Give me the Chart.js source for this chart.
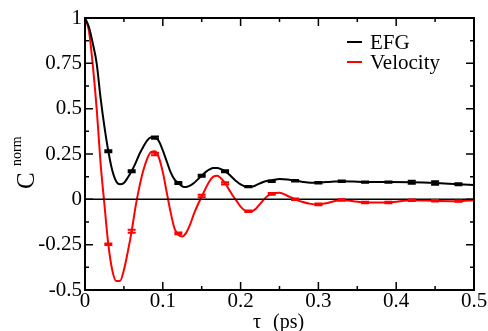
<!DOCTYPE html>
<html>
<head>
<meta charset="utf-8">
<script src="https://cdn.jsdelivr.net/npm/chart.js@4"></script>
<style>
  html, body { margin: 0; padding: 0; background: #fff; }
  #wrap { width: 488px; height: 331px; }
</style>
</head>
<body>
<div id="wrap"><canvas id="grafico"></canvas></div>
<script>
// curve samples (tau in ps)
const tau = [0, 0.005, 0.01, 0.015, 0.02, 0.025, 0.03, 0.035, 0.04, 0.045, 0.05, 0.055, 0.06, 0.065, 0.07, 0.075,
  0.08, 0.085, 0.09, 0.095, 0.1, 0.105, 0.11, 0.115, 0.12, 0.125, 0.13, 0.135, 0.14, 0.145, 0.15, 0.155, 0.16,
  0.165, 0.17, 0.175, 0.18, 0.185, 0.19, 0.195, 0.2, 0.205, 0.21, 0.215, 0.22, 0.225, 0.23, 0.235, 0.24, 0.25,
  0.26, 0.27, 0.28, 0.29, 0.3, 0.31, 0.32, 0.33, 0.345, 0.36, 0.39, 0.42, 0.45, 0.48, 0.5];
const efg = [1, 0.95, 0.86, 0.75, 0.56, 0.4, 0.265, 0.16, 0.1, 0.083, 0.09, 0.12, 0.156, 0.2, 0.25, 0.29,
  0.325, 0.342, 0.343, 0.32, 0.27, 0.21, 0.15, 0.11, 0.09, 0.072, 0.068, 0.075, 0.09, 0.11, 0.13, 0.15, 0.165,
  0.173, 0.173, 0.166, 0.155, 0.138, 0.118, 0.098, 0.082, 0.072, 0.068, 0.07, 0.078, 0.088, 0.097, 0.102, 0.105, 0.112,
  0.11, 0.103, 0.096, 0.092, 0.092, 0.095, 0.098, 0.1, 0.098, 0.095, 0.095, 0.094, 0.09, 0.083, 0.079];
const velocity = [1, 0.93, 0.74, 0.5, 0.2, -0.03, -0.25, -0.39, -0.45, -0.45, -0.39, -0.29, -0.175, -0.04, 0.07, 0.16,
  0.225, 0.262, 0.265, 0.23, 0.15, 0.04, -0.07, -0.16, -0.195, -0.205, -0.185, -0.14, -0.08, -0.03, 0.015, 0.06, 0.1,
  0.125, 0.13, 0.115, 0.09, 0.055, 0.02, -0.01, -0.04, -0.06, -0.068, -0.065, -0.05, -0.025, 0, 0.02, 0.03, 0.036,
  0.02, 0, -0.015, -0.025, -0.028, -0.022, -0.01, -0.004, -0.01, -0.017, -0.017, -0.005, -0.008, -0.01, -0.005];

// points with error bars
const errTau = [0.03, 0.06, 0.09, 0.12, 0.15, 0.18, 0.21, 0.24, 0.27, 0.3, 0.33, 0.36, 0.39, 0.42, 0.45, 0.48];
const efgPts = [0.265, 0.155, 0.34, 0.09, 0.13, 0.155, 0.07, 0.1, 0.103, 0.092, 0.1, 0.095, 0.095, 0.094, 0.09, 0.083];
const efgErr = [0.006, 0.006, 0.006, 0.005, 0.005, 0.005, 0.004, 0.004, 0.004, 0.004, 0.004, 0.004, 0.004, 0.008, 0.01, 0.006];
const velPts = [-0.248, -0.176, 0.25, -0.188, 0.018, 0.088, -0.066, 0.03, 0, -0.028, -0.004, -0.017, -0.017, -0.005, -0.008, -0.01];
const velErr = [0.004, 0.008, 0.007, 0.005, 0.007, 0.006, 0.004, 0.005, 0.004, 0.005, 0.004, 0.004, 0.004, 0.004, 0.004, 0.004];

// tick labels
const xTicks = [0, 0.1, 0.2, 0.3, 0.4, 0.5];
const xTickLabels = ['0', '0.1', '0.2', '0.3', '0.4', '0.5'];
const yTicks = [1, 0.75, 0.5, 0.25, 0, -0.25, -0.5];
const yTickLabels = ['1', '0.75', '0.5', '0.25', '0', '-0.25', '-0.5'];

const FONT = '"Liberation Serif", "DejaVu Serif", serif';

function pares(ys) {
    return tau.map((t, i) => ({ x: t, y: ys[i] }));
}

// eixos estilo xmgrace: moldura, ticks para dentro, rótulos, barras de erro, legenda
const moldura = {
    id: 'moldura',
    afterDatasetsDraw(chart) {
        const ctx = chart.ctx;
        const a = chart.chartArea;
        const sx = chart.scales.x, sy = chart.scales.y;
        ctx.save();

        // linha do zero
        ctx.strokeStyle = '#000';
        ctx.lineWidth = 1.5;
        const y0 = sy.getPixelForValue(0);
        ctx.beginPath();
        ctx.moveTo(a.left, y0);
        ctx.lineTo(a.right, y0);
        ctx.stroke();

        // barras de erro
        const series = [[efgPts, efgErr, '#000'], [velPts, velErr, '#ff0000']];
        series.forEach(([pts, err, cor]) => {
            ctx.strokeStyle = cor;
            ctx.lineWidth = 2;
            errTau.forEach((t, i) => {
                const px = sx.getPixelForValue(t);
                const top = sy.getPixelForValue(pts[i] + err[i]);
                const bot = sy.getPixelForValue(pts[i] - err[i]);
                ctx.beginPath();
                ctx.moveTo(px, top); ctx.lineTo(px, bot);
                ctx.moveTo(px - 4, top); ctx.lineTo(px + 4, top);
                ctx.moveTo(px - 4, bot); ctx.lineTo(px + 4, bot);
                ctx.stroke();
            });
        });

        // moldura
        ctx.strokeStyle = '#000';
        ctx.lineWidth = 2;
        ctx.strokeRect(a.left, a.top, a.right - a.left, a.bottom - a.top);

        // ticks para dentro
        ctx.lineWidth = 1.5;
        ctx.beginPath();
        for (let k = 0; k <= 10; k++) {
            const v = k * 0.05;
            const px = sx.getPixelForValue(v);
            const len = k % 2 === 0 ? 8 : 4;
            ctx.moveTo(px, a.bottom); ctx.lineTo(px, a.bottom - len);
            ctx.moveTo(px, a.top); ctx.lineTo(px, a.top + len);
        }
        for (let k = 0; k <= 12; k++) {
            const v = -0.5 + k * 0.125;
            const py = sy.getPixelForValue(v);
            const len = k % 2 === 0 ? 8 : 4;
            ctx.moveTo(a.left, py); ctx.lineTo(a.left + len, py);
            ctx.moveTo(a.right, py); ctx.lineTo(a.right - len, py);
        }
        ctx.stroke();

        // rótulos dos ticks
        ctx.fillStyle = '#000';
        ctx.font = '21px ' + FONT;
        ctx.textAlign = 'center';
        ctx.textBaseline = 'top';
        xTicks.forEach((v, i) => {
            ctx.fillText(xTickLabels[i], sx.getPixelForValue(v), a.bottom + 1);
        });
        ctx.textAlign = 'right';
        ctx.textBaseline = 'middle';
        yTicks.forEach((v, i) => {
            ctx.fillText(yTickLabels[i], a.left - 3, sy.getPixelForValue(v));
        });

        // títulos dos eixos
        ctx.textAlign = 'left';
        ctx.textBaseline = 'alphabetic';
        ctx.font = '20px ' + FONT;
        ctx.fillText('\u03c4', 253, 328);
        ctx.fillText('(ps)', 273, 328);

        ctx.save();
        ctx.translate(34, 189);
        ctx.rotate(-Math.PI / 2);
        ctx.font = '25px ' + FONT;
        ctx.fillText('C', 0, 0);
        ctx.font = '14px ' + FONT;
        ctx.fillText('norm', 23, -13);
        ctx.restore();

        // legenda
        ctx.font = '21px ' + FONT;
        ctx.textBaseline = 'middle';
        chart.data.datasets.forEach((ds, i) => {
            const ly = 42 + i * 20;
            ctx.strokeStyle = ds.borderColor;
            ctx.lineWidth = 2;
            ctx.beginPath();
            ctx.moveTo(347, ly); ctx.lineTo(362, ly);
            ctx.stroke();
            ctx.fillStyle = '#000';
            ctx.fillText(ds.label, 370, ly + 1);
        });

        ctx.restore();
    }
};

new Chart(document.getElementById('grafico'), {
    type: 'line',
    data: {
        datasets: [
            {
                label: 'EFG',
                data: pares(efg),
                borderColor: '#000',
                borderWidth: 2,
                pointRadius: 0,
                tension: 0.4,
                cubicInterpolationMode: 'monotone'
            },
            {
                label: 'Velocity',
                data: pares(velocity),
                borderColor: '#ff0000',
                borderWidth: 2,
                pointRadius: 0,
                tension: 0.4,
                cubicInterpolationMode: 'monotone'
            }
        ]
    },
    options: {
        responsive: true,
        maintainAspectRatio: false,
        animation: false,
        layout: {
            padding: { left: 85, top: 18, right: 14, bottom: 41 }
        },
        plugins: {
            legend: { display: false },
            tooltip: { enabled: false }
        },
        scales: {
            x: { type: 'linear', min: 0, max: 0.5, display: false },
            y: { type: 'linear', min: -0.5, max: 1, display: false }
        }
    },
    plugins: [moldura]
});
</script>
</body>
</html>
